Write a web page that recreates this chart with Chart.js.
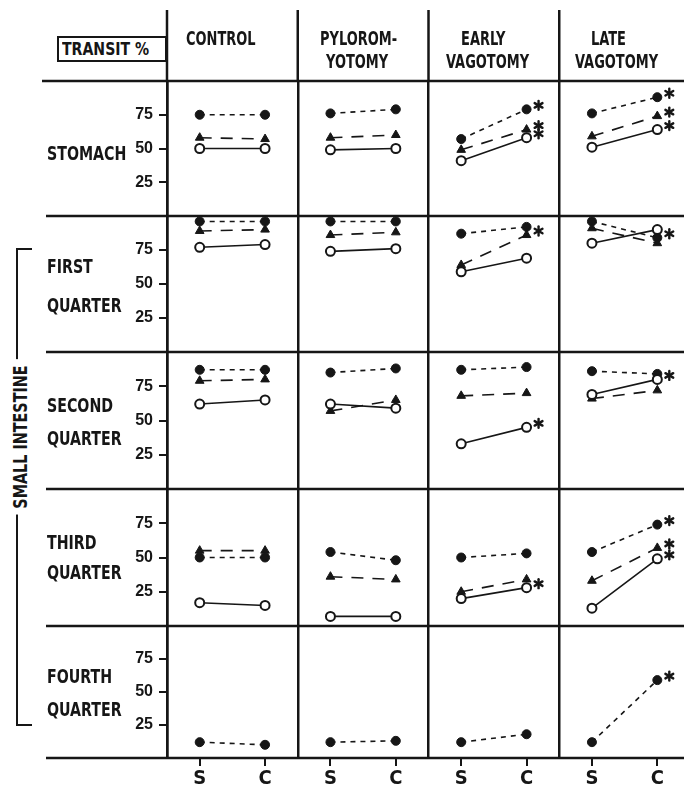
<!DOCTYPE html>
<html>
<head>
<meta charset="utf-8">
<script src="https://cdn.jsdelivr.net/npm/chart.js@4.4.1/dist/chart.umd.min.js"></script>
<style>
  html, body { margin: 0; padding: 0; background: #fff; }
  body { width: 684px; height: 787px; overflow: hidden; position: relative; }
  .row { position: absolute; left: 0; width: 690px; }
  .lbl { position: absolute; font-weight: bold; font-family: "DejaVu Sans Condensed", sans-serif;
         color: #161616; white-space: nowrap; transform-origin: 0 0; }
  #transit { position: absolute; left: 57px; top: 36px; width: 110px; height: 26px; box-sizing: border-box;
             border: 2px solid #161616; color: #161616; }
  #transit span { position: absolute; left: 3px; top: 1px; font: bold 18px "DejaVu Sans Condensed", sans-serif;
                  line-height: 20px; transform: scaleX(0.87); transform-origin: 0 0; white-space: nowrap; }
  #bracket { position: absolute; left: 16px; top: 248px; width: 16px; height: 478px; box-sizing: border-box;
             border: 2.5px solid #161616; border-right: none; }
  #small { position: absolute; left: 20px; top: 437px; transform: translate(-50%, -50%) rotate(-90deg) scaleX(0.84);
           background: #fff; padding: 0 7px; font: bold 19px "DejaVu Sans Condensed", sans-serif;
           color: #161616; white-space: nowrap; line-height: 19px; }
</style>
</head>
<body>
<div id="transit"><span>TRANSIT %</span></div>
<div id="bracket"></div>
<div id="small">SMALL INTESTINE</div>
<script>
// groups along x, each with a start (S) and a cuff (C) reading
const groupLabels = [['CONTROL'], ['PYLOROM-', 'YOTOMY'], ['EARLY', 'VAGOTOMY'], ['LATE', 'VAGOTOMY']];
const regionLabels = [['STOMACH'], ['FIRST', 'QUARTER'], ['SECOND', 'QUARTER'], ['THIRD', 'QUARTER'], ['FOURTH', 'QUARTER']];
const phases = ['S', 'C'];
const yTicks = [25, 50, 75];

// transit % as [S, C] per group; dots = filled circles, tris = triangles, rings = open circles
const stomachDots = [[75, 75], [76, 79], [57, 79], [76, 88]];
const stomachTris = [[58, 57], [58, 60], [49, 64], [59, 74]];
const stomachRings = [[50, 50], [49, 50], [41, 58], [51, 64]];
const stomachStars = [['dots', 2], ['tris', 2], ['rings', 2], ['dots', 3], ['tris', 3], ['rings', 3]];

const firstDots = [[96, 96], [96, 96], [87, 92], [96, 84]];
const firstTris = [[89, 90], [86, 88], [64, 86], [91, 80]];
const firstRings = [[77, 79], [74, 76], [59, 69], [80, 90]];
const firstStars = [['tris', 2], ['dots', 3]];

const secondDots = [[87, 87], [85, 88], [87, 89], [86, 84]];
const secondTris = [[79, 80], [57, 65], [68, 70], [66, 72]];
const secondRings = [[62, 65], [62, 59], [33, 45], [69, 80]];
const secondStars = [['rings', 2], ['rings', 3]];

const thirdDots = [[50, 50], [54, 48], [50, 53], [54, 74]];
const thirdTris = [[55, 55], [36, 34], [25, 34], [33, 57]];
const thirdRings = [[17, 15], [7, 7], [20, 28], [13, 49]];
const thirdStars = [['rings', 2], ['dots', 3], ['tris', 3], ['rings', 3]];

const fourthDots = [[12, 10], [12, 13], [12, 18], [12, 59]];
const fourthStars = [['dots', 3]];

const rows = [
  { dots: stomachDots, tris: stomachTris, rings: stomachRings, stars: stomachStars },
  { dots: firstDots, tris: firstTris, rings: firstRings, stars: firstStars },
  { dots: secondDots, tris: secondTris, rings: secondRings, stars: secondStars },
  { dots: thirdDots, tris: thirdTris, rings: thirdRings, stars: thirdStars },
  { dots: fourthDots, stars: fourthStars }
];

const INK = '#161616';
const FONT = '"DejaVu Sans Condensed", sans-serif';
const rowEdges = [81, 216, 352, 489, 626, 758];

// S sits a quarter into each column, C three quarters; a null breaks the line between groups
function series(pairs) {
  const pts = [];
  pairs.forEach((p, g) => {
    pts.push({ x: g + 0.25, y: p[0] }, { x: g + 0.75, y: p[1] }, { x: g + 0.5, y: null });
  });
  return pts;
}

// no label overhang padding, so every chart area sits exactly on its row
function fitTo(s, w, h) {
  if (w !== null) s.width = w;
  if (h !== null) s.height = h;
  s.paddingTop = s.paddingBottom = s.paddingLeft = s.paddingRight = 0;
}

function drawStar(ctx, x, y) {
  ctx.save();
  ctx.strokeStyle = INK;
  ctx.lineWidth = 2.4;
  ctx.lineCap = 'round';
  const r = 4.5;
  for (let k = 0; k < 3; k++) {
    const a = Math.PI / 2 + k * Math.PI / 3;
    ctx.beginPath();
    ctx.moveTo(x - r * Math.cos(a), y - r * Math.sin(a));
    ctx.lineTo(x + r * Math.cos(a), y + r * Math.sin(a));
    ctx.stroke();
  }
  ctx.restore();
}

// asterisks next to the C point of significant changes
const starPlugin = {
  id: 'stars',
  afterDatasetsDraw(chart) {
    chart.data.datasets.forEach((ds, i) => {
      (ds.stars || []).forEach(g => {
        const el = chart.getDatasetMeta(i).data[g * 3 + 1];
        drawStar(chart.ctx, el.x + 12, el.y - 4);
      });
    });
  }
};

// row separators, and the column rules running up through the header
const framePlugin = {
  id: 'frame',
  afterDraw(chart, args, opts) {
    const { ctx, chartArea: a } = chart;
    ctx.save();
    ctx.strokeStyle = INK;
    ctx.lineWidth = 2.5;
    const hline = (y, x0) => {
      ctx.beginPath(); ctx.moveTo(x0, y); ctx.lineTo(chart.width, y); ctx.stroke();
    };
    hline(a.bottom, 46);
    if (opts.header) {
      hline(a.top, 42);
      [0, 1, 2, 3].forEach(v => {
        const x = chart.scales.x.getPixelForValue(v);
        ctx.beginPath(); ctx.moveTo(x, 10); ctx.lineTo(x, a.top); ctx.stroke();
      });
    }
    ctx.restore();
  }
};

const styles = {
  rings: { pointStyle: 'circle', pointRadius: 4.5, pointBackgroundColor: '#fff', pointBorderColor: INK, pointBorderWidth: 2, borderDash: [] },
  tris: { pointStyle: 'triangle', pointRadius: 5, pointBackgroundColor: INK, pointBorderColor: INK, pointBorderWidth: 1, borderDash: [12, 9] },
  dots: { pointStyle: 'circle', pointRadius: 4.5, pointBackgroundColor: INK, pointBorderColor: INK, pointBorderWidth: 1, borderDash: [5, 5] }
};

rows.forEach((row, i) => {
  const last = i === rows.length - 1;
  const top = i === 0 ? 0 : rowEdges[i] - 8;
  const bottom = last ? 787 : rowEdges[i + 1] + 8;
  const box = document.createElement('div');
  box.className = 'row';
  box.style.top = top + 'px';
  box.style.height = (bottom - top) + 'px';
  // 690 wide: the last column runs a few pixels past the page edge, as in the original
  const canvas = document.createElement('canvas');
  canvas.width = 690;
  canvas.height = bottom - top;
  box.appendChild(canvas);
  document.body.appendChild(box);

  // rings first so they are painted on top
  const datasets = ['rings', 'tris', 'dots'].filter(k => row[k]).map(k => Object.assign({
    data: series(row[k]),
    borderColor: INK,
    borderWidth: 1.6,
    fill: false,
    tension: 0,
    clip: false,
    spanGaps: false,
    stars: row.stars.filter(s => s[0] === k).map(s => s[1])
  }, styles[k]));

  new Chart(canvas, {
    type: 'line',
    data: { datasets },
    options: {
      responsive: false,
      animation: false,
      events: [],
      layout: { autoPadding: false, padding: { top: rowEdges[i] - top, bottom: last ? 0 : 8, left: 0, right: 0 } },
      plugins: { legend: { display: false }, tooltip: { enabled: false }, frame: { header: i === 0 } },
      scales: {
        x: {
          type: 'linear', min: 0, max: 4, display: last, position: 'bottom',
          afterBuildTicks: s => {
            s.ticks = [];
            groupLabels.forEach((g, k) => s.ticks.push({ value: k + 0.25 }, { value: k + 0.75 }));
          },
          afterFit: s => fitTo(s, null, last ? 29 : 0),
          grid: { drawOnChartArea: false, drawTicks: true, tickLength: 8, color: INK, lineWidth: 2 },
          border: { display: false },
          ticks: { font: { family: FONT, size: 20, weight: 'bold' }, color: INK, padding: 1, maxRotation: 0, autoSkip: false,
                   callback: (v, k) => phases[k % 2] }
        },
        cols: {
          type: 'linear', axis: 'x', position: 'top', min: 0, max: 4,
          afterBuildTicks: s => { s.ticks = [0, 1, 2, 3, 4].map(v => ({ value: v })); },
          afterFit: s => fitTo(s, null, 0),
          grid: { drawOnChartArea: true, drawTicks: false, color: INK, lineWidth: 2.5 },
          border: { display: false },
          ticks: { display: false }
        },
        y: {
          type: 'linear', min: 0, max: 100,
          afterBuildTicks: s => { s.ticks = yTicks.map(v => ({ value: v })); },
          afterFit: s => fitTo(s, 167, null),
          grid: { drawOnChartArea: false, drawTicks: true, tickLength: 8, color: INK, lineWidth: 2 },
          border: { display: true, color: INK, width: 2.5 },
          ticks: { font: { family: '"Liberation Sans", sans-serif', size: 16, weight: 'bold' }, color: INK, padding: 6 }
        }
      }
    },
    plugins: [framePlugin, starPlugin]
  });
});

// text labels, condensed to the lettering of the original
function label(text, x, baseline, size, squeeze) {
  const d = document.createElement('div');
  d.className = 'lbl';
  d.style.fontSize = size + 'px';
  d.style.lineHeight = size + 'px';
  d.style.left = x + 'px';
  d.style.top = (baseline - 0.85 * size) + 'px';
  d.style.transform = 'scaleX(' + squeeze + ')';
  d.textContent = text;
  document.body.appendChild(d);
}
const headerX = [[186], [320, 326], [461, 446], [591, 575]];
groupLabels.forEach((lines, g) => lines.forEach((t, k) => label(t, headerX[g][k], 45 + k * 23, 19, 0.76)));
const regionBase = [[160], [273, 312], [412, 445], [549, 579], [683, 716]];
regionLabels.forEach((lines, r) => lines.forEach((t, k) => label(t, 47, regionBase[r][k], 19, 0.83)));
</script>
</body>
</html>
